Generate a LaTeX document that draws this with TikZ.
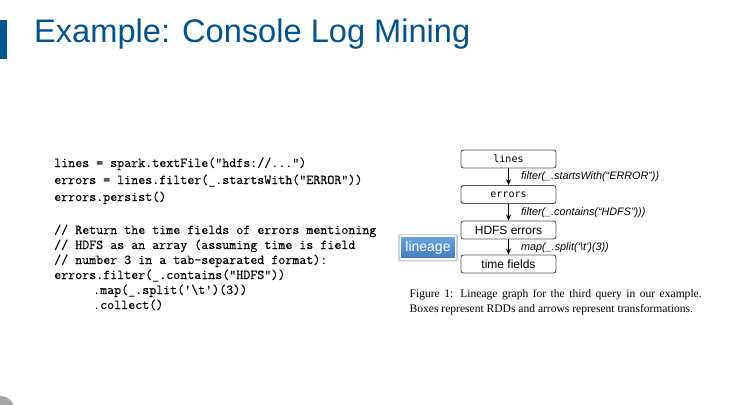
\documentclass[tikz,border=0pt]{standalone}
\usepackage{fontspec}
\setmainfont{Liberation Sans}
\newfontfamily\capfont{Liberation Serif}
\newfontfamily\codefont{Latin Modern Mono}[FakeBold=0.3]
\newfontfamily\boxmono{DejaVu Sans Mono}
\usetikzlibrary{arrows.meta}
\definecolor{titleblue}{HTML}{00548F}
\definecolor{btntop}{HTML}{6FA3DE}
\definecolor{btnbot}{HTML}{3F7CC4}
\definecolor{boxline}{HTML}{555555}
\tikzset{
  codeline/.style={anchor=base west, inner sep=0pt, font=\codefont\fontsize{13.6}{15}\selectfont},
  rdd/.style={draw=boxline, line width=0.9pt, rounded corners=2.5pt, fill=white,
    minimum width=95pt, minimum height=18pt, inner sep=0pt},
  rddtt/.style={rdd, font=\boxmono\fontsize{10}{12}\selectfont},
  rddsf/.style={rdd, font=\fontsize{12}{14}\selectfont},
  xform/.style={-{Stealth[length=6pt,width=5pt]}, line width=1.1pt},
  xlabel/.style={anchor=west, inner sep=0pt, font=\itshape\fontsize{10.8}{12}\selectfont},
  capline/.style={anchor=base west, inner sep=0pt, font=\capfont\fontsize{11.55}{14}\selectfont},
  button/.style={draw=white, line width=1.6pt, top color=btntop, bottom color=btnbot,
    minimum width=55pt, minimum height=23pt, inner sep=0pt, text=white,
    font=\fontsize{14}{16}\selectfont},
}
\begin{document}
\begin{tikzpicture}[x=1pt,y=-1pt]
\useasboundingbox (0,0) rectangle (741,404);
\fill[white] (0,0) rectangle (741,404);

% title bar and heading
\fill[titleblue] (0,20) rectangle (7,59);
\node[anchor=base west, inner sep=0pt, text=titleblue, font=\fontsize{32.6}{36}\selectfont]
  (title) at (34,43) {Example: Console Log Mining};

% Spark code
\node[codeline] (c1) at (54,167) {lines = spark.textFile("hdfs://...")};
\node[codeline] (c2) at (54,184) {errors = lines.filter(\_.startsWith("ERROR"))};
\node[codeline] (c3) at (54,201) {errors.persist()};
\node[codeline] (c4) at (54,234) {// Return the time fields of errors mentioning};
\node[codeline] (c5) at (54,249) {// HDFS as an array (assuming time is field};
\node[codeline] (c6) at (54,264) {// number 3 in a tab-separated format):};
\node[codeline] (c7) at (54,279) {errors.filter(\_.contains("HDFS"))};
\node[codeline] (c8) at (93,294) {.map(\_.split('\textbackslash t')(3))};
\node[codeline] (c9) at (93,309) {.collect()};

% lineage graph
\node[rddtt] (lines)  at (508.5,159)   {lines};
\node[rddtt] (errors) at (508.5,194.5) {errors};
\node[rddsf] (hdfs)   at (508.5,230)   {HDFS errors};
\node[rddsf] (time)   at (508.5,264)   {time fields};
\draw[xform] (lines)  -- (errors);
\draw[xform] (errors) -- (hdfs);
\draw[xform] (hdfs)   -- (time);
\node[xlabel] (l1) at (521,176.5) {filter(\_.startsWith(“ERROR”))};
\node[xlabel] (l2) at (521,212.5) {filter(\_.contains(“HDFS”)))};
\node[xlabel] (l3) at (521,247.5) {map(\_.split(‘\textbackslash t’)(3))};

% lineage button with a soft grey halo
\fill[black!18, rounded corners=1.5pt] (398,234) rectangle (458,261.5);
\node[button] (lineage) at (428,247.5) {lineage};

% caption: first line justified, second line at natural width
\node[capline] (cap1) at (409.5,297)
  {\makebox[292pt][s]{Figure 1: Lineage graph for the third query in our example.}};
\node[capline] (cap2) at (409.5,312) {Boxes represent RDDs and arrows represent transformations.};

% corner decoration
\fill[black!35] (1,409) circle (13);
\end{tikzpicture}
\end{document}
